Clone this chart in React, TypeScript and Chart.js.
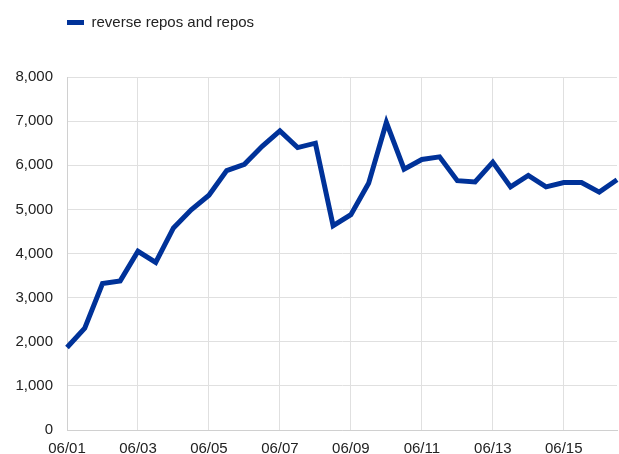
import React, { useEffect, useRef } from "react";
import { Chart, registerables } from "chart.js";

Chart.register(...registerables);

const categories: string[] = [
  "06/01", "06/01", "06/02", "06/02", "06/03", "06/03", "06/04", "06/04",
  "06/05", "06/05", "06/06", "06/06", "06/07", "06/07", "06/08", "06/08",
  "06/09", "06/09", "06/10", "06/10", "06/11", "06/11", "06/12", "06/12",
  "06/13", "06/13", "06/14", "06/14", "06/15", "06/15", "06/16", "06/16",
];

const repoValues: number[] = [
  1870, 2310, 3320, 3380, 4050, 3800, 4580, 4990,
  5320, 5880, 6020, 6430, 6780, 6400, 6500, 4630,
  4880, 5590, 6970, 5910, 6130, 6190, 5650, 5620,
  6070, 5510, 5770, 5510, 5610, 5610, 5390, 5670,
];

const seriesLabel = "reverse repos and repos";
const yTicks: number[] = [0, 1000, 2000, 3000, 4000, 5000, 6000, 7000, 8000];

const FONT = "'Liberation Sans', Arial, sans-serif";
const GRID = "#e0e0e0";

export default function App() {
  const ref = useRef<HTMLCanvasElement | null>(null);
  useEffect(() => {
    if (!ref.current) return;
    const layoutPlugin = {
      id: "layoutTweaks",
      beforeInit(chart: any) {
        const lg = chart.legend;
        if (lg && !lg.__patched) {
          const orig = lg.fit.bind(lg);
          lg.fit = function () {
            orig();
            this.height = 77;
          };
          lg.__patched = true;
        }
      },
      afterLayout(chart: any) {
        const lg = chart.legend;
        if (lg) {
          const w = lg.right - lg.left;
          lg.left = 67 - 15;
          lg.right = lg.left + w;
        }
      },
    };
    const chart = new Chart(ref.current, {
      type: "line",
      data: {
        labels: categories,
        datasets: [
          {
            label: seriesLabel,
            data: repoValues,
            borderColor: "#003299",
            backgroundColor: "#003299",
            borderWidth: 5,
            pointRadius: 0,
            tension: 0,
            borderJoinStyle: "miter",
          },
        ],
      },
      options: {
        animation: false,
        responsive: false,
        maintainAspectRatio: false,
        layout: { padding: { left: 0, right: 2, top: 0, bottom: 0 } },
        plugins: {
          legend: {
            display: true,
            position: "top",
            align: "start",
            labels: {
              boxWidth: 17,
              boxHeight: 5,
              padding: 15,
              color: "#222222",
              font: { family: FONT, size: 15 },
              generateLabels: (c: any) =>
                Chart.defaults.plugins.legend.labels.generateLabels(c).map((it: any) => ({
                  ...it,
                  lineWidth: 0,
                  strokeStyle: "rgba(0,0,0,0)",
                  fillStyle: "#003299",
                })),
            },
          },
          tooltip: { enabled: false },
        },
        scales: {
          x: {
            type: "category",
            offset: false,
            grid: {
              color: (ctx: any) => (ctx.index % 4 === 0 ? GRID : "rgba(0,0,0,0)"),
              lineWidth: 1,
              drawTicks: false,
            },
            border: { color: "#d0d0d0" },
            ticks: {
              autoSkip: false,
              maxRotation: 0,
              minRotation: 0,
              padding: 10,
              color: "#222222",
              font: { family: FONT, size: 15 },
              callback: (_v: any, i: number) => (i % 4 === 0 ? categories[i] : ""),
            },
            afterFit: (s: any) => {
              s.height = 24;
              s.paddingRight = 0;
            },
          },
          y: {
            min: 0,
            max: 8000,
            afterBuildTicks: (s: any) => {
              s.ticks = yTicks.map((v) => ({ value: v }));
            },
            grid: { color: GRID, lineWidth: 1, drawTicks: false },
            border: { color: "#d0d0d0" },
            ticks: {
              padding: 14,
              color: "#222222",
              font: { family: FONT, size: 15 },
              callback: (v: any) => Number(v).toLocaleString("en-US"),
            },
            afterFit: (s: any) => {
              s.width = 67;
            },
          },
        },
      },
      plugins: [layoutPlugin],
    });
    return () => chart.destroy();
  }, []);
  return (
    <div style={{ position: "fixed", left: 0, top: 0, width: 619, height: 454, background: "#fff" }}>
      <canvas ref={ref} width={619} height={454} style={{ display: "block", width: 619, height: 454 }} />
    </div>
  );
}
